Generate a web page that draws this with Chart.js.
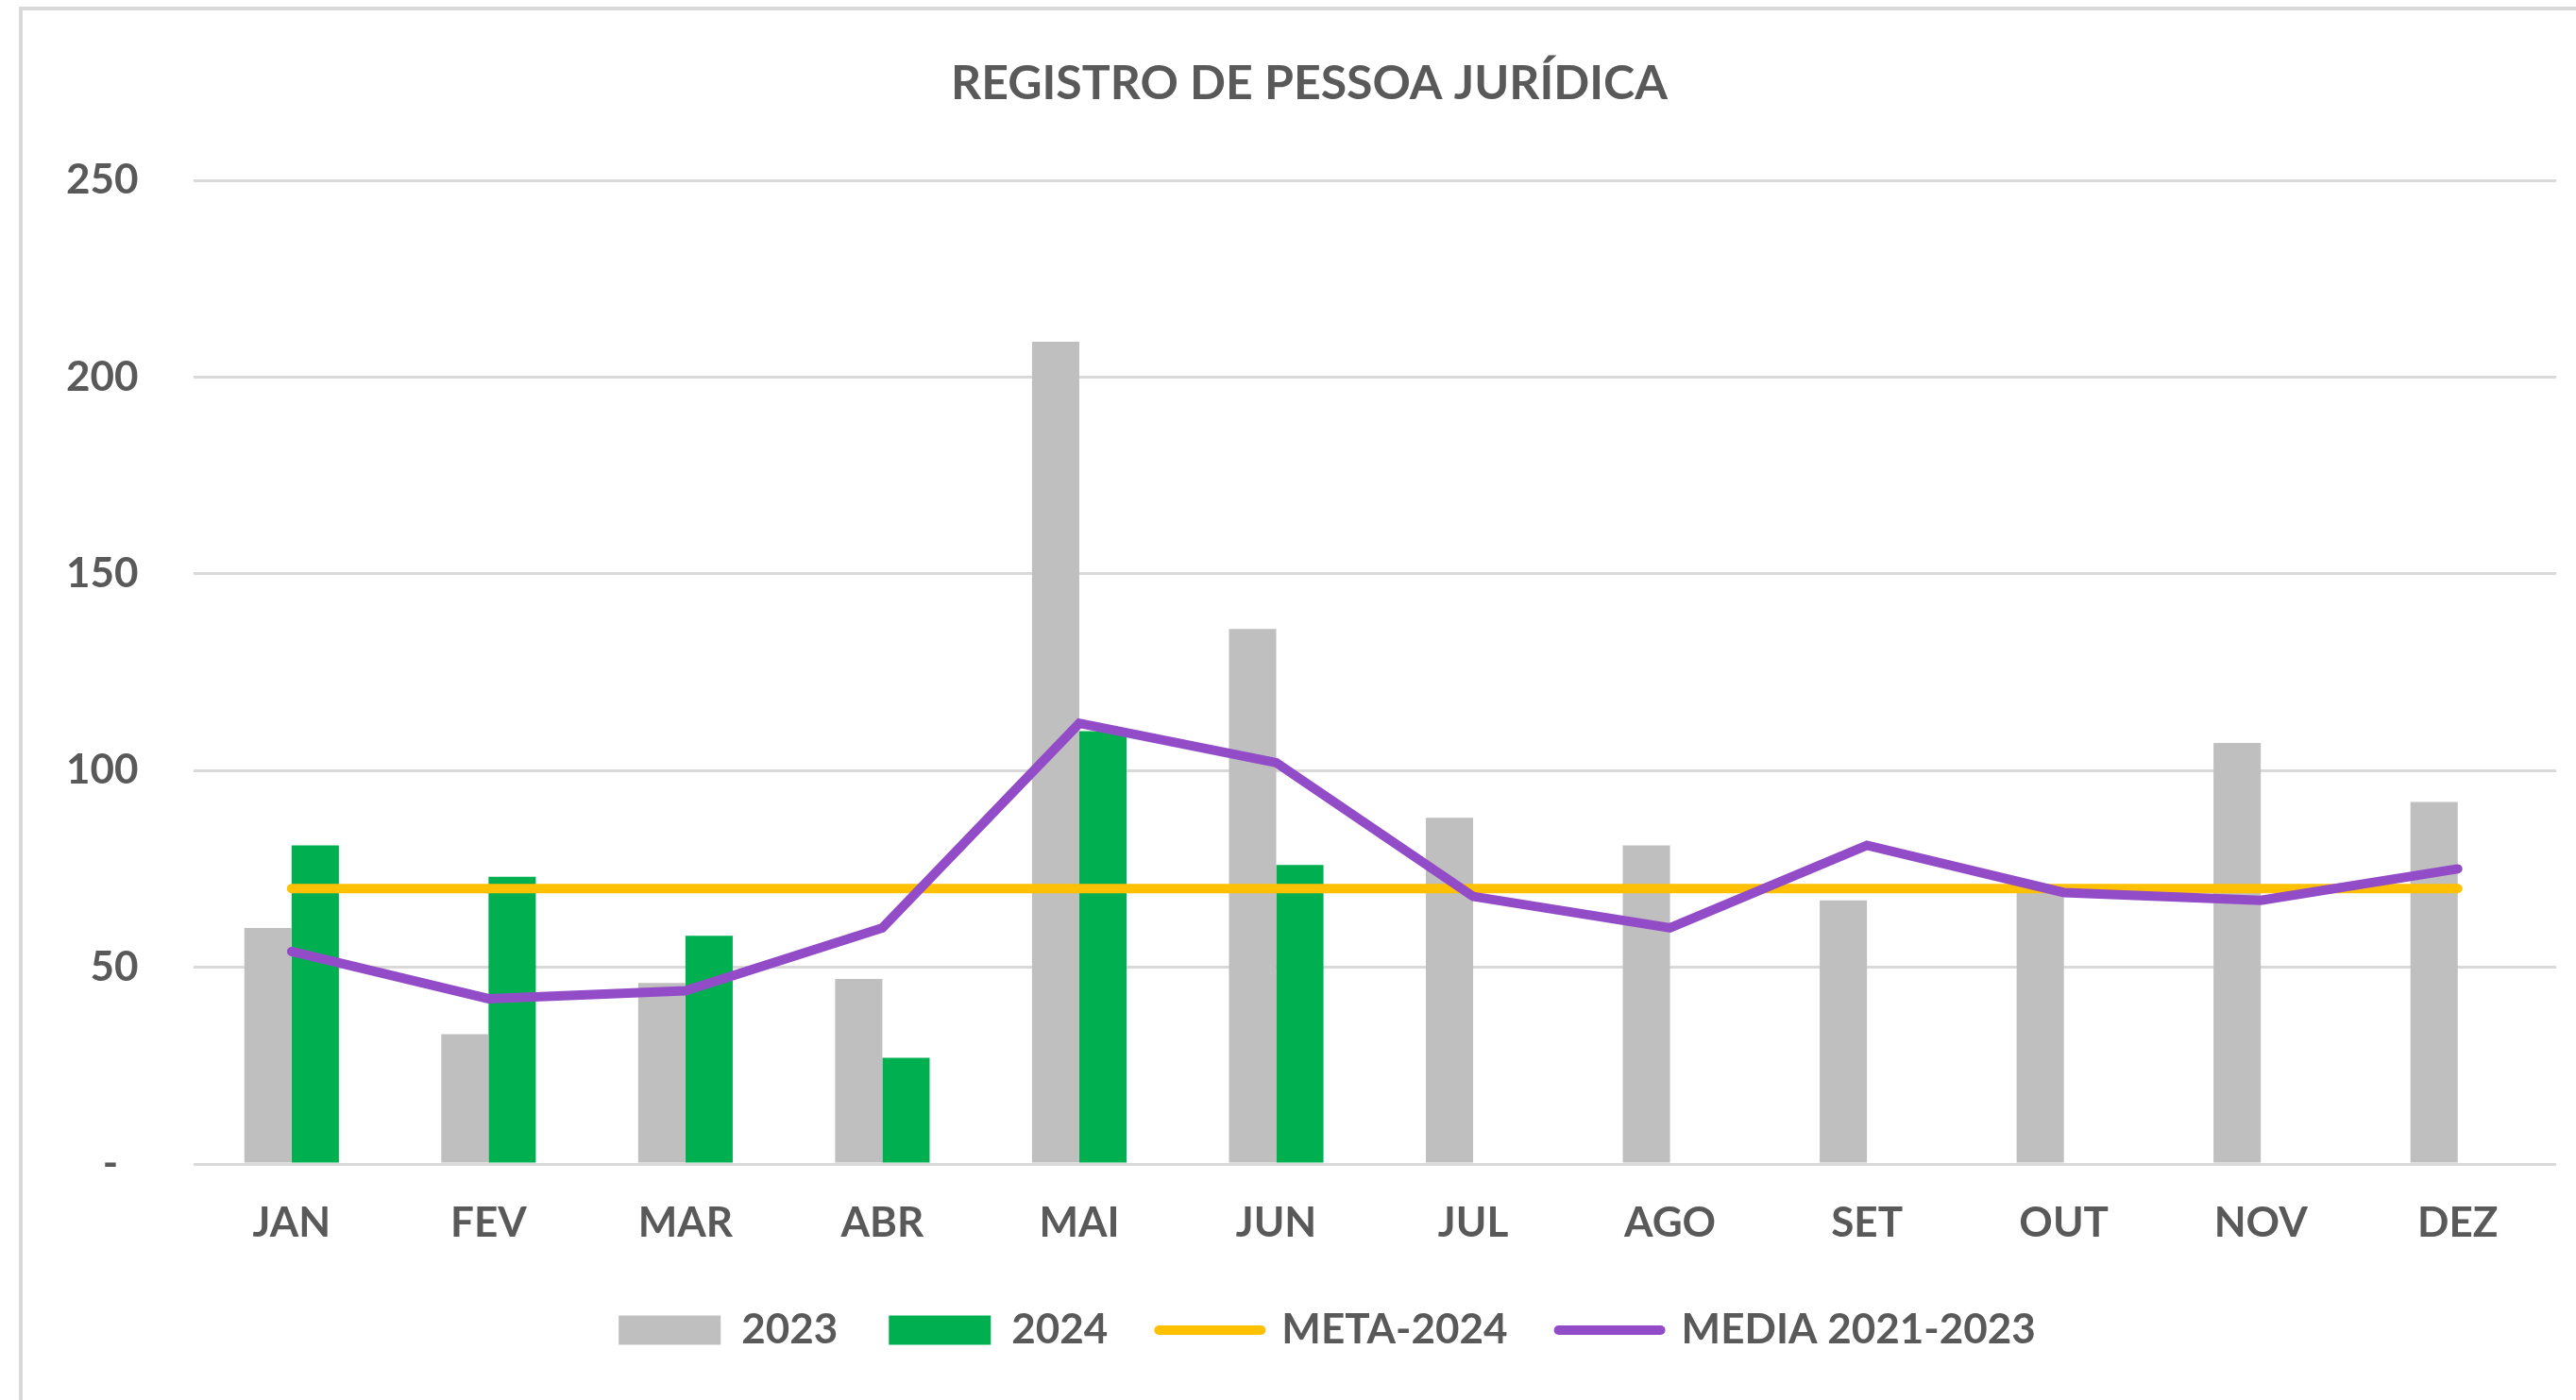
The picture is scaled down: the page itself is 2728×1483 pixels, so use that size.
<!DOCTYPE html>
<html>
<head>
<meta charset="utf-8">
<script src="https://cdn.jsdelivr.net/npm/chart.js@4.4.0/dist/chart.umd.min.js"></script>
<style>
  html, body { margin: 0; padding: 0; background: #fff; overflow: hidden; }
  #frame { position: absolute; left: 20px; top: 7px; width: 3000px; height: 2000px; border: 4px solid #d9d9d9; }
  #c { position: absolute; left: 0; top: 0; }
</style>
</head>
<body>
<div id="frame"></div>
<canvas id="c" width="2728" height="1483"></canvas>
<script>
const MESES = ['JAN', 'FEV', 'MAR', 'ABR', 'MAI', 'JUN', 'JUL', 'AGO', 'SET', 'OUT', 'NOV', 'DEZ']
const REG_2023 = [60, 33, 46, 47, 209, 136, 88, 81, 67, 69, 107, 92]
const REG_2024 = [81, 73, 58, 27, 110, 76, null, null, null, null, null, null]
const META_2024 = [70, 70, 70, 70, 70, 70, 70, 70, 70, 70, 70, 70]
const MEDIA_21_23 = [54, 42, 44, 60, 112, 102, 68, 60, 81, 69, 67, 75]
const Y_TICKS = [0, 50, 100, 150, 200, 250]

// cores do Excel
const CINZA = '#BFBFBF'
const VERDE = '#00B050'
const AMARELO = '#FFC000'
const ROXO = '#934CC8'
const TEXTO = '#595959'
const FONTE = 'Lato, Carlito, Calibri, sans-serif'

// título e legenda ficam um pouco à direita do centro, como no Excel
const deslocar = {
  id: 'deslocar',
  afterLayout(chart) {
    chart.legend.left += 46
    chart.legend.right += 46
    chart.titleBlock.left += 27
    chart.titleBlock.right += 27
  },
}

new Chart(document.getElementById('c'), {
  data: {
    labels: MESES,
    datasets: [
      { type: 'bar', label: '2023', data: REG_2023, backgroundColor: CINZA, order: 2,
        barPercentage: 1, categoryPercentage: 0.48 },
      { type: 'bar', label: '2024', data: REG_2024, backgroundColor: VERDE, order: 2,
        barPercentage: 1, categoryPercentage: 0.48 },
      { type: 'line', label: 'META-2024', data: META_2024, borderColor: AMARELO, backgroundColor: AMARELO,
        borderWidth: 10, borderCapStyle: 'round', pointRadius: 0, tension: 0, order: 1 },
      { type: 'line', label: 'MEDIA 2021-2023', data: MEDIA_21_23, borderColor: ROXO, backgroundColor: ROXO,
        borderWidth: 10, borderCapStyle: 'round', borderJoinStyle: 'miter', pointRadius: 0, tension: 0, order: 0 },
    ],
  },
  plugins: [deslocar],
  options: {
    responsive: false,
    animation: false,
    devicePixelRatio: 1,
    layout: { padding: { left: 12, right: 21, top: 0, bottom: 42 } },
    plugins: {
      title: {
        display: true,
        text: 'REGISTRO DE PESSOA JURÍDICA',
        color: TEXTO,
        font: { family: FONTE, size: 50, weight: 'bold', lineHeight: 1.2 },
        padding: { top: 59, bottom: 72 },
      },
      legend: {
        position: 'bottom',
        labels: {
          color: TEXTO,
          font: { family: FONTE, size: 44, weight: 'bold' },
          usePointStyle: true,
          pointStyleWidth: 108,
          boxHeight: 31,
          padding: 54,
          generateLabels: chart => chart.data.datasets.map((ds, i) => ({
            text: ds.label,
            datasetIndex: i,
            fillStyle: ds.type === 'line' ? ds.borderColor : ds.backgroundColor,
            strokeStyle: ds.type === 'line' ? ds.borderColor : ds.backgroundColor,
            lineWidth: ds.type === 'line' ? 10 : 0,
            lineCap: 'round',
            pointStyle: ds.type === 'line' ? 'line' : 'rect',
            fontColor: TEXTO,
            hidden: false,
          })),
        },
      },
      tooltip: { enabled: false },
    },
    scales: {
      x: {
        grid: { display: false, drawTicks: false },
        border: { display: false },
        ticks: { color: TEXTO, padding: 36, font: { family: FONTE, size: 44, weight: 'bold', lineHeight: 1.2 } },
        afterFit: s => { s.height = 100 },
      },
      y: {
        min: 0,
        max: 250,
        afterBuildTicks: axis => { axis.ticks = Y_TICKS.map(v => ({ value: v })) },
        grid: { color: '#D9D9D9', lineWidth: 3, drawTicks: false },
        border: { display: false },
        ticks: {
          color: TEXTO,
          padding: 58,
          font: { family: FONTE, size: 44, weight: 'bold' },
          callback: v => v === 0 ? '-  ' : String(v),
        },
      },
    },
  },
})
</script>
</body>
</html>
